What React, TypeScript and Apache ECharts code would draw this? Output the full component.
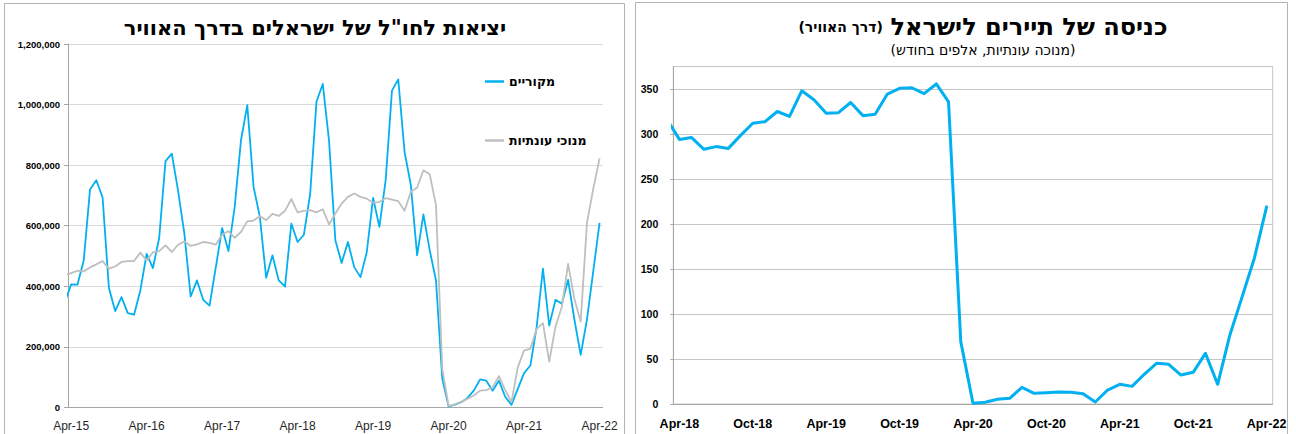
import React, { useEffect, useRef } from "react";
import * as echarts from "echarts";

const FONT = '"Liberation Sans", Arial, "DejaVu Sans", sans-serif';
const HEB_FONT = '"DejaVu Sans", "Liberation Sans", Arial, sans-serif';

const MONTHS = ["Jan", "Feb", "Mar", "Apr", "May", "Jun", "Jul", "Aug", "Sep", "Oct", "Nov", "Dec"];
function monthLabels(year: number, month: number, count: number): string[] {
  const out: string[] = [];
  for (let k = 0; k < count; k++) {
    const m = (month + k) % 12;
    const y = year + Math.floor((month + k) / 12);
    out.push(MONTHS[m] + "-" + String(y % 100).padStart(2, "0"));
  }
  return out;
}

// Left chart: categories Apr-15 .. Apr-22
const leftCategories = monthLabels(2015, 3, 85);
// Right chart: categories Apr-18 .. Apr-22
const rightCategories = monthLabels(2018, 3, 49);

const LEFT_TITLE = 'יציאות לחו"ל של ישראלים בדרך האוויר';
const RIGHT_TITLE_MAIN = "כניסה של תיירים לישראל";
const RIGHT_TITLE_SMALL = "(דרך האוויר)";
const RIGHT_SUBTITLE = "(מנוכה עונתיות, אלפים בחודש)";
const NAME_ORIGINAL = "מקוריים";
const NAME_ADJUSTED = "מנוכי עונתיות";

// Outbound Israelis (thousands). First value = Mar-15 (cut by the axis edge), then Apr-15 .. Apr-22
const leftOriginal = [
  347, 406, 405, 485, 719, 750, 693, 395, 318, 364, 311, 306, 386,
  507, 460, 560, 813, 838, 715, 574, 366, 419, 355, 336, 463,
  592, 516, 662, 882, 998, 728, 629, 428, 502, 419, 399, 607,
  546, 570, 706, 1009, 1068, 880, 552, 477, 546, 463, 430, 513,
  692, 596, 750, 1046, 1083, 844, 734, 502, 637, 519, 419, 94,
  3, 9, 17, 31, 55, 92, 88, 55, 88, 35, 8, 61,
  113, 138, 265, 458, 270, 355, 342, 421, 290, 173, 290, 450,
  609,
];
const leftAdjusted = [
  437, 443, 451, 449, 462, 472, 483, 458, 465, 480, 483, 483, 511,
  485, 512, 516, 535, 513, 537, 548, 533, 538, 546, 543, 537,
  571, 582, 560, 579, 614, 617, 632, 618, 639, 632, 649, 688,
  644, 649, 651, 644, 654, 604, 640, 673, 695, 706, 695, 689,
  676, 678, 691, 686, 681, 649, 712, 726, 783, 770, 667, 127,
  5, 10, 18, 28, 39, 55, 57, 66, 103, 57, 17, 132,
  188, 193, 259, 278, 151, 267, 331, 474, 358, 283, 609, 722,
  822,
];

// Tourist entries (thousands, s.a.). First value = Mar-18 (cut by the axis edge), then Apr-18 .. Apr-22
const tourists = [
  316, 294, 296, 283, 286, 284, 298.5, 312, 313.7, 325, 319.6, 348, 338,
  323, 323.7, 335, 320.4, 322, 344.4, 350.7, 351.4, 344.8, 355.6, 335.6, 69.3,
  0.8, 1.9, 5.2, 6.3, 18.5, 11.9, 12.6, 13.3, 13, 11.5, 2.2, 15.5,
  21.9, 19.6, 33, 45.2, 44.1, 32.2, 35.2, 56.3, 21.9, 76.7, 119, 162,
  219,
];

const leftYTicks = { min: 0, max: 1200000, interval: 200000 };
const rightYTicks = { min: 0, max: 375, interval: 50 };

export default function App() {
  const ref = useRef<HTMLDivElement>(null);
  useEffect(() => {
    if (!ref.current) return;
    const chart = echarts.init(ref.current, null, { renderer: "svg" });
    const axisGray = "#a6a6a6";
    const option: any = {
      animation: false,
      backgroundColor: "#ffffff",
      textStyle: { fontFamily: FONT },
      grid: [
        { left: 68, top: 44, width: 534.7, height: 363.3 },
        { left: 673.3, top: 66.5, width: 599.4, height: 337.5, show: true, borderColor: "#c6c6c6", borderWidth: 1 },
      ],
      legend: {
        data: [NAME_ORIGINAL, NAME_ADJUSTED],
        orient: "vertical",
        left: 480,
        top: 70,
        itemGap: 46,
        itemWidth: 19,
        itemHeight: 2.5,
        itemTextGap: 1,
        icon: "rect",
        textStyle: { fontFamily: HEB_FONT, fontSize: 12.5, fontWeight: "bold", color: "#000" },
      },
      xAxis: [
        {
          gridIndex: 0,
          type: "category",
          data: leftCategories,
          boundaryGap: true,
          axisLine: { lineStyle: { color: axisGray } },
          axisTick: { interval: 11, length: 5, lineStyle: { color: axisGray } },
          axisLabel: { interval: 11, margin: 13, fontSize: 12, color: "#262626", fontFamily: FONT },
          splitLine: { show: false },
        },
        { gridIndex: 0, type: "value", min: 0, max: leftCategories.length, show: false },
        {
          gridIndex: 1,
          type: "category",
          data: rightCategories,
          boundaryGap: true,
          axisLine: { lineStyle: { color: axisGray } },
          axisTick: { interval: 5, length: 6, lineStyle: { color: axisGray } },
          axisLabel: { interval: 5, margin: 13, fontSize: 12.5, fontWeight: "bold", color: "#000", fontFamily: FONT },
          splitLine: { show: false },
        },
        { gridIndex: 1, type: "value", min: 0, max: rightCategories.length, show: false },
      ],
      yAxis: [
        {
          gridIndex: 0,
          type: "value",
          min: leftYTicks.min,
          max: leftYTicks.max,
          interval: leftYTicks.interval,
          axisLine: { show: true, lineStyle: { color: axisGray } },
          axisTick: { show: true, length: 4, lineStyle: { color: axisGray } },
          axisLabel: {
            margin: 8,
            fontSize: 9.5,
            fontWeight: "bold",
            color: "#000",
            fontFamily: FONT,
            formatter: (v: number) => v.toLocaleString("en-US"),
          },
          splitLine: { lineStyle: { color: "#d9d9d9" } },
        },
        {
          gridIndex: 1,
          type: "value",
          min: rightYTicks.min,
          max: rightYTicks.max,
          interval: rightYTicks.interval,
          axisLine: { show: true, lineStyle: { color: axisGray } },
          axisTick: { show: true, length: 3, lineStyle: { color: axisGray } },
          axisLabel: { margin: 15, fontSize: 10.5, fontWeight: "bold", color: "#000", fontFamily: FONT, showMaxLabel: false },
          splitLine: { lineStyle: { color: "#c6c6c6" } },
        },
      ],
      series: [
        {
          type: "line",
          name: NAME_ORIGINAL,
          xAxisIndex: 1,
          yAxisIndex: 0,
          data: leftOriginal.map((v, k) => [k - 0.5, v * 1000]),
          symbol: "none",
          showSymbol: false,
          lineStyle: { color: "#00b0f0", width: 1.8, join: "round" },
          itemStyle: { color: "#00b0f0" },
        },
        {
          type: "line",
          name: NAME_ADJUSTED,
          xAxisIndex: 1,
          yAxisIndex: 0,
          data: leftAdjusted.map((v, k) => [k - 0.5, v * 1000]),
          symbol: "none",
          showSymbol: false,
          lineStyle: { color: "#bfbfbf", width: 1.8, join: "round" },
          itemStyle: { color: "#bfbfbf" },
        },
        {
          type: "line",
          name: "tourists",
          xAxisIndex: 3,
          yAxisIndex: 1,
          data: tourists.map((v, k) => [k - 0.5, v]),
          symbol: "none",
          showSymbol: false,
          lineStyle: { color: "#00b0f0", width: 3, join: "round", cap: "round" },
          itemStyle: { color: "#00b0f0" },
        },
      ],
      graphic: [
        { type: "rect", silent: true, shape: { x: 4.5, y: 3.5, width: 620, height: 445 }, style: { fill: "none", stroke: "#b4b4b4", lineWidth: 1 } },
        { type: "rect", silent: true, shape: { x: 635.5, y: 2.5, width: 652, height: 445 }, style: { fill: "none", stroke: "#b4b4b4", lineWidth: 1 } },
        {
          type: "text",
          x: 315,
          y: 28,
          style: { text: LEFT_TITLE, fontSize: 21, fontWeight: "bold", fontFamily: HEB_FONT, fill: "#000", align: "center", verticalAlign: "middle" },
        },
        {
          type: "text",
          x: 983,
          y: 27,
          style: {
            text: "{s|" + RIGHT_TITLE_SMALL + "} {b|" + RIGHT_TITLE_MAIN + "}",
            rich: {
              s: { fontSize: 14, fontWeight: "bold", fontFamily: HEB_FONT, fill: "#000" },
              b: { fontSize: 24, fontWeight: "bold", fontFamily: HEB_FONT, fill: "#000" },
            },
            fontSize: 24,
            fontFamily: HEB_FONT,
            align: "center",
            verticalAlign: "middle",
          },
        },
        {
          type: "text",
          x: 983,
          y: 50,
          style: { text: RIGHT_SUBTITLE, fontSize: 14, fontFamily: HEB_FONT, fill: "#000", align: "center", verticalAlign: "middle" },
        },
      ],
    };
    chart.setOption(option);
    return () => chart.dispose();
  }, []);
  return (
    <div
      ref={ref}
      style={{ position: "fixed", left: 0, top: 0, width: 1296, height: 434, background: "#fff" }}
    />
  );
}
